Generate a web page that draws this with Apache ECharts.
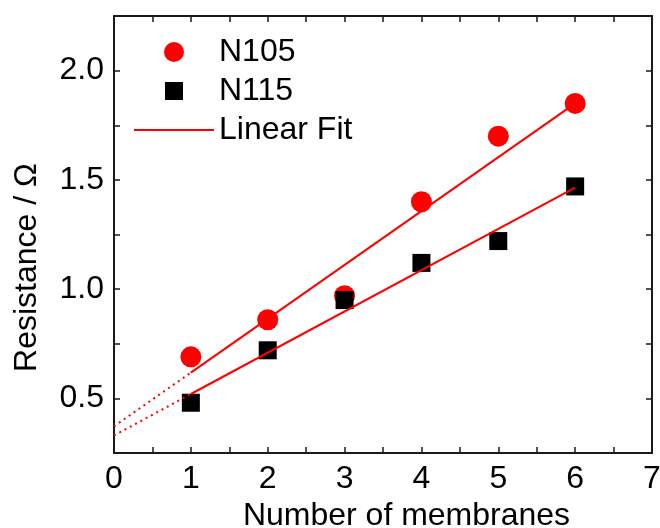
<!DOCTYPE html>
<html>
<head>
<meta charset="utf-8">
<script src="https://cdn.jsdelivr.net/npm/echarts@6/dist/echarts.min.js"></script>
<style>
  html, body { margin: 0; padding: 0; background: #fff; }
  #chart { width: 660px; height: 528px; }
</style>
</head>
<body>
<div id="chart"></div>
<script>
// values
var membranes = [1, 2, 3, 4, 5, 6];
var n105 = [0.69, 0.86, 0.97, 1.40, 1.70, 1.85];
var n115 = [0.48, 0.72, 0.95, 1.12, 1.22, 1.47];

// fit line end points (solid part) and dotted extension to x = 0
var fitN105 = [[1, 0.618], [6, 1.85]];
var extN105 = [[0, 0.372], [1, 0.618]];
var fitN115 = [[1, 0.52], [6, 1.465]];
var extN115 = [[0, 0.33], [1, 0.52]];

var font = "'Liberation Sans', Arial, sans-serif";
var axisColor = '#1a1a1a';

function pairs(xs, ys) {
    return xs.map(function (x, i) { return [x, ys[i]]; });
}

var chart = echarts.init(document.getElementById('chart'));

var xBase = {
    type: 'value',
    min: 0,
    max: 7,
    interval: 0.5,
    splitLine: { show: false },
    axisLine: { show: true, onZero: false, lineStyle: { color: axisColor, width: 2 } },
    axisTick: { show: true, inside: true, length: 6, lineStyle: { color: axisColor, width: 1.5 } }
};
var yBase = {
    type: 'value',
    min: 0.25,
    max: 2.25,
    interval: 0.25,
    splitLine: { show: false },
    axisLine: { show: true, onZero: false, lineStyle: { color: axisColor, width: 2 } },
    axisTick: { show: true, inside: true, length: 6, lineStyle: { color: axisColor, width: 1.5 } }
};

chart.setOption({
    animation: false,
    backgroundColor: '#fff',
    grid: { left: 114, right: 8, top: 16, bottom: 75, outerBoundsMode: 'none', containLabel: false },
    legend: {
        orient: 'vertical',
        left: 129,
        top: 31,
        itemWidth: 80,
        itemHeight: 20,
        itemGap: 7,
        symbolKeepAspect: true,
        textStyle: { fontSize: 32, color: '#000', fontFamily: font },
        data: [
            { name: 'N105', icon: 'circle' },
            { name: 'N115', icon: 'path://M0,0L0,0M1,1H19V19H1ZM20,20L20,20' },
            { name: 'Linear Fit', icon: 'path://M0,0H80V2H0Z' }
        ]
    },
    xAxis: [
        Object.assign({}, xBase, {
            position: 'bottom',
            name: 'Number of membranes',
            nameLocation: 'middle',
            nameGap: 43,
            nameTextStyle: { fontSize: 32, color: '#000', fontFamily: font, padding: [0, 0, 0, 47] },
            axisLabel: {
                show: true,
                margin: 10,
                fontSize: 32,
                color: '#000',
                fontFamily: font,
                showMinLabel: true,
                showMaxLabel: true,
                formatter: function (v) {
                    return Math.abs(v - Math.round(v)) < 1e-6 ? String(Math.round(v)) : '';
                }
            }
        }),
        Object.assign({}, xBase, { position: 'top', axisLabel: { show: false } })
    ],
    yAxis: [
        Object.assign({}, yBase, {
            position: 'left',
            name: 'Resistance / Ω',
            nameLocation: 'middle',
            nameGap: 71,
            nameTextStyle: { fontSize: 32, color: '#000', fontFamily: font, padding: [0, 66, 0, 0] },
            axisLabel: {
                show: true,
                margin: 10,
                fontSize: 32,
                color: '#000',
                fontFamily: font,
                formatter: function (v) {
                    var d = v * 2;
                    return Math.abs(d - Math.round(d)) < 1e-6 ? v.toFixed(1) : '';
                }
            }
        }),
        Object.assign({}, yBase, { position: 'right', axisLabel: { show: false } })
    ],
    series: [
        {
            name: 'N105',
            type: 'scatter',
            symbol: 'circle',
            symbolSize: 21,
            itemStyle: { color: '#ff0000', opacity: 1 },
            data: pairs(membranes, n105),
            z: 2
        },
        {
            name: 'N115',
            type: 'scatter',
            symbol: 'rect',
            symbolSize: 18,
            itemStyle: { color: '#000', opacity: 1 },
            data: pairs(membranes, n115),
            z: 3
        },
        {
            name: 'Linear Fit',
            type: 'line',
            symbol: 'none',
            lineStyle: { color: '#ff0000', width: 2 },
            itemStyle: { color: '#ff0000' },
            data: fitN105,
            z: 4
        },
        {
            name: 'Linear Fit',
            type: 'line',
            symbol: 'none',
            lineStyle: { color: '#ff0000', width: 2 },
            itemStyle: { color: '#ff0000' },
            data: fitN115,
            z: 4
        },
        {
            name: 'ext105',
            type: 'line',
            symbol: 'none',
            lineStyle: { color: '#ff0000', width: 2, type: [2, 4] },
            data: extN105,
            z: 4
        },
        {
            name: 'ext115',
            type: 'line',
            symbol: 'none',
            lineStyle: { color: '#ff0000', width: 2, type: [2, 4] },
            data: extN115,
            z: 4
        }
    ]
});
</script>
</body>
</html>
